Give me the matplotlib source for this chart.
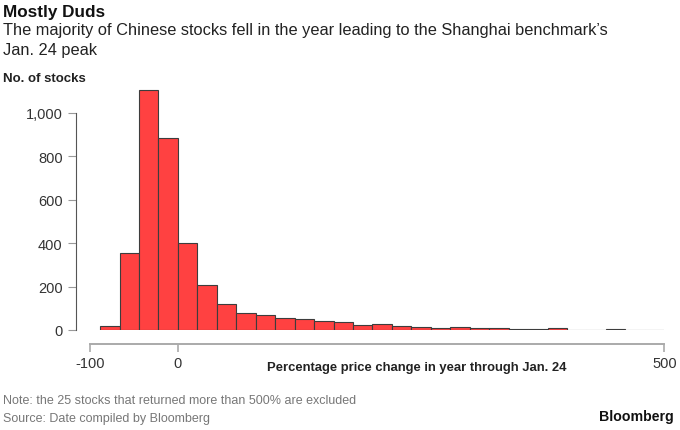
import numpy as np
import matplotlib
matplotlib.use('Agg')
import matplotlib.pyplot as plt

plt.rcParams['font.family'] = ['Liberation Sans', 'DejaVu Sans']
plt.rcParams['axes.unicode_minus'] = False

# histogram of 1-year price change, bins of 20 percentage points
bin_edges = list(range(-80, 501, 20))
counts = [20, 353, 1105, 883, 401, 208, 121, 78, 68, 56,
          50, 42, 37, 21, 29, 20, 14, 9, 15, 9,
          7, 4, 3, 7, 1, 2, 3, 1, 1]
# the axis line starts a little right of -100 in the original, labelled -100
x_tick_pos = [-90, 0, 500]
x_ticklabels = ['-100', '0', '500']
y_ticks = [0, 200, 400, 600, 800, 1000]
y_ticklabels = ['0', '200', '400', '600', '800', '1,000']

fig = plt.figure(figsize=(6.8, 4.31), dpi=100)
ax = fig.add_axes([80.6 / 680, 100 / 431, 583.7 / 680, 250 / 431])

lefts = np.array(bin_edges[:-1])
widths = np.diff(bin_edges)
ax.bar(lefts, counts, width=widths, align='edge', color='#ff4141',
       edgecolor='#3d3d3d', linewidth=0.8, zorder=2)

ax.set_xlim(-100, 500)
ax.set_ylim(0, 1150)

for s in ['top', 'right']:
    ax.spines[s].set_visible(False)
ax.spines['left'].set_position(('outward', 3))
ax.spines['left'].set_bounds(0, 1000)
ax.spines['left'].set_color('#555555')
ax.spines['bottom'].set_position(('outward', 10))
ax.spines['bottom'].set_bounds(x_tick_pos[0], x_tick_pos[-1])
ax.spines['bottom'].set_color('#aaaaaa')
ax.spines['bottom'].set_linewidth(1.4)

ax.set_yticks(y_ticks)
ax.set_yticklabels(y_ticklabels)
ax.set_xticks(x_tick_pos)
ax.set_xticklabels(x_ticklabels)
ax.tick_params(axis='y', length=6, color='#999999', labelsize=10.5,
               labelcolor='#333333', pad=4)
ax.tick_params(axis='x', length=6, width=1.2, color='#aaaaaa', labelsize=10.5,
               labelcolor='#333333', pad=3)

fig.text(417 / 680, 1 - 368 / 431, 'Percentage price change in year through Jan. 24',
         ha='center', va='center', fontsize=9.4, fontweight='bold', color='#222222')

fig.text(3 / 680, 1 - 12 / 431, 'Mostly Duds', ha='left', va='center',
         fontsize=12.3, fontweight='bold', color='#111111')
fig.text(3 / 680, 1 - 31 / 431, "The majority of Chinese stocks fell in the year leading to the Shanghai benchmark\u2019s",
         ha='left', va='center', fontsize=11.8, color='#222222')
fig.text(3 / 680, 1 - 50 / 431, 'Jan. 24 peak', ha='left', va='center',
         fontsize=11.8, color='#222222')
fig.text(3 / 680, 1 - 79 / 431, 'No. of stocks', ha='left', va='center',
         fontsize=9.5, fontweight='bold', color='#222222')

fig.text(3 / 680, 1 - 401 / 431, 'Note: the 25 stocks that returned more than 500% are excluded',
         ha='left', va='center', fontsize=9, color='#777777')
fig.text(3 / 680, 1 - 419 / 431, 'Source: Date compiled by Bloomberg',
         ha='left', va='center', fontsize=9, color='#777777')
fig.text(674 / 680, 1 - 417 / 431, 'Bloomberg', ha='right', va='center',
         fontsize=10.2, fontweight='bold', color='#111111')

fig.savefig('out.png', dpi=100)
